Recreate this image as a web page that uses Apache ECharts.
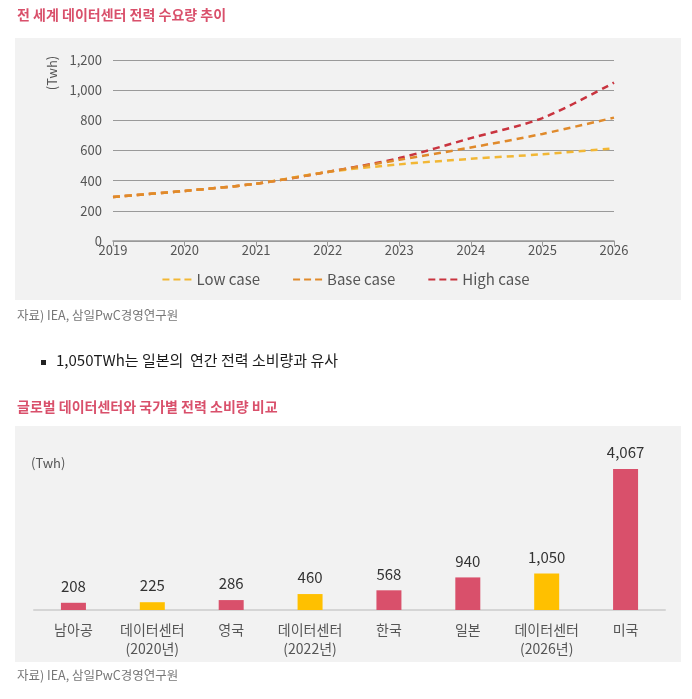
<!DOCTYPE html>
<html><head><meta charset="utf-8">
<script src="https://cdn.jsdelivr.net/npm/echarts@6/dist/echarts.min.js"></script>
<style>html,body{margin:0;padding:0;background:#fff}#c{width:692px;height:699px}</style>
</head><body><div id="c"></div>
<script>
var years = ['2019','2020','2021','2022','2023','2024','2025','2026'];
var lowCase  = [292, 332, 380, 458, 508, 545, 575, 615];
var baseCase = [292, 332, 380, 458, 538, 620, 710, 818];
var highCase = [292, 332, 380, 458, 550, 682, 815, 1050];
var lineNames = ['Low case','Base case','High case'];
var yTicks = {min:0, max:1200, interval:200};

var barCats = ['남아공','데이터센터\n(2020년)','영국','데이터센터\n(2022년)','한국','일본','데이터센터\n(2026년)','미국'];
var barVals = [208, 225, 286, 460, 568, 940, 1050, 4067];
var barIsDC = [false, true, false, true, false, false, true, false];

var FONT = '"Noto Sans CJK KR","Noto Sans",sans-serif';
var PINK = '#d9506b', YEL = '#ffc000';
var DASH_ICON = 'path://M0,0h7v2h-7z M11,0h7v2h-7z M22,0h7v2h-7z';
var chart = echarts.init(document.getElementById('c'), null, {renderer:'canvas'});

function lineSeries(name, data, color, z){
  return {name:name, type:'line', xAxisIndex:0, yAxisIndex:0, data:data, smooth:0.3,
    showSymbol:false, symbol:'none', z:z,
    lineStyle:{color:color, width:2.5, type:[7,5]}, itemStyle:{color:color}};
}

chart.setOption({
  animation:false,
  textStyle:{fontFamily:FONT},
  graphic:[
    {type:'rect', z:-10, shape:{x:15,y:38,width:666,height:262}, style:{fill:'#f2f2f2'}},
    {type:'rect', z:-10, shape:{x:15,y:426,width:666,height:236}, style:{fill:'#f2f2f2'}},
    {type:'text', left:17, top:8, style:{text:'전 세계 데이터센터 전력 수요량 추이', fill:PINK, font:'bold 14px '+FONT}},
    {type:'text', x:52, y:73, rotation:Math.PI/2, style:{text:'(Twh)', fill:'#555', font:'13px '+FONT, textAlign:'center', textVerticalAlign:'middle'}},
    {type:'text', left:17, top:309, style:{text:'자료) IEA, 삼일PwC경영연구원', fill:'#777', font:'12.5px '+FONT}},
    {type:'rect', shape:{x:41,y:360,width:5,height:5}, style:{fill:'#222'}},
    {type:'text', left:56, top:353, style:{text:'1,050TWh는 일본의  연간 전력 소비량과 유사', fill:'#1a1a1a', font:'15px '+FONT}},
    {type:'text', left:17, top:400, style:{text:'글로벌 데이터센터와 국가별 전력 소비량 비교', fill:PINK, font:'bold 14px '+FONT}},
    {type:'text', left:31, top:457, style:{text:'(Twh)', fill:'#555', font:'13px '+FONT}},
    {type:'text', left:17, top:669, style:{text:'자료) IEA, 삼일PwC경영연구원', fill:'#777', font:'12.5px '+FONT}}
  ],
  legend:{
    top:267, left:'center', itemWidth:29, itemHeight:2.5, itemGap:33,
    data:lineNames.map(function(n){return {name:n, icon:DASH_ICON};}),
    textStyle:{color:'#555', fontSize:15, fontFamily:FONT}
  },
  grid:[
    {left:113, right:78, top:60, bottom:458, containLabel:false},
    {left:34, right:27, top:454, bottom:89, containLabel:false}
  ],
  xAxis:[
    {type:'category', gridIndex:0, data:years, boundaryGap:false,
     axisLine:{lineStyle:{color:'#999', width:1.5}}, axisTick:{show:true, length:5, lineStyle:{color:'#999'}},
     axisLabel:{color:'#555', fontSize:13, margin:3}},
    {type:'category', gridIndex:1, data:barCats,
     axisLine:{lineStyle:{color:'#d5d5d5', width:2}}, axisTick:{show:false},
     axisLabel:{color:'#555', fontSize:14, margin:10, lineHeight:19, interval:0}}
  ],
  yAxis:[
    {type:'value', gridIndex:0, min:yTicks.min, max:yTicks.max, interval:yTicks.interval,
     axisLine:{show:false}, axisTick:{show:false},
     axisLabel:{color:'#555', fontSize:13, margin:11, formatter:function(v){return v.toLocaleString('en-US');}},
     splitLine:{lineStyle:{color:'#9a9a9a', width:1}}},
    {type:'value', gridIndex:1, min:0, max:4500, show:false, splitLine:{show:false}}
  ],
  series:[
    lineSeries('High case', highCase, '#c9343f', 2),
    lineSeries('Low case', lowCase, '#f2b735', 3),
    lineSeries('Base case', baseCase, '#e08a2b', 4),
    {type:'bar', xAxisIndex:1, yAxisIndex:1, barWidth:25,
     data:barVals.map(function(v,i){return {value:v, itemStyle:{color: barIsDC[i]?YEL:PINK}};}),
     label:{show:true, position:'top', distance:9, color:'#333', fontSize:15, fontFamily:FONT,
       formatter:function(p){return p.value.toLocaleString('en-US');}}}
  ]
});
</script></body></html>
